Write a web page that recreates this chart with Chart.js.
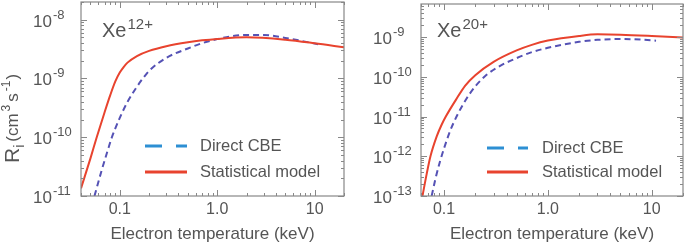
<!DOCTYPE html>
<html>
<head>
<meta charset="utf-8">
<script src="https://cdn.jsdelivr.net/npm/chart.js@4/dist/chart.umd.min.js"></script>
<style>
  html, body { margin:0; padding:0; background:#fff; }
  #wrap { position:relative; width:685px; height:243px; overflow:hidden; }
  .panel { position:absolute; top:0; height:243px; }
</style>
</head>
<body>
<div id="wrap">
  <div class="panel" style="left:0;width:345px"><canvas id="c12" width="345" height="243"></canvas></div>
  <div class="panel" style="left:345px;width:340px"><canvas id="c20" width="340" height="243"></canvas></div>
</div>
<script>
// Xe12+ : statistical model
const tStat12 = [0.04, 0.05, 0.058, 0.07, 0.08, 0.09, 0.1, 0.11, 0.12, 0.15, 0.2, 0.3, 0.5, 0.7, 1, 2, 5, 10, 20];
const rStat12 = [1.35e-11, 4.37e-11, 1.0e-10, 2.69e-10, 5.25e-10, 8.91e-10, 1.26e-9, 1.58e-9, 1.86e-9, 2.41e-9, 2.95e-9, 3.54e-9, 4.13e-9, 4.45e-9, 4.71e-9, 5.01e-9, 4.57e-9, 3.98e-9, 3.39e-9];
// Xe12+ : direct CBE
const tCbe12 = [0.055, 0.065, 0.075, 0.083, 0.09, 0.1, 0.12, 0.15, 0.174, 0.2, 0.3, 0.5, 0.7, 1, 2, 3, 5, 11];
const rCbe12 = [1e-11, 2.69e-11, 5.89e-11, 1e-10, 1.41e-10, 2.14e-10, 3.98e-10, 7.24e-10, 1.02e-9, 1.35e-9, 2.24e-9, 3.24e-9, 3.98e-9, 4.68e-9, 5.50e-9, 5.50e-9, 4.90e-9, 3.80e-9];

// Xe20+ : statistical model
const tStat20 = [0.062, 0.068, 0.074, 0.085, 0.095, 0.104, 0.13, 0.16, 0.2, 0.3, 0.5, 0.7, 1, 2, 3, 5, 10, 20];
const rStat20 = [1e-13, 3.55e-13, 1e-12, 3.16e-12, 6.31e-12, 1e-11, 2.63e-11, 6.03e-11, 1.10e-10, 2.38e-10, 4.62e-10, 6.37e-10, 8.17e-10, 1.07e-9, 1.17e-9, 1.15e-9, 1.07e-9, 9.77e-10];
// Xe20+ : direct CBE
const tCbe20 = [0.076, 0.083, 0.091, 0.1, 0.115, 0.132, 0.16, 0.2, 0.257, 0.35, 0.5, 0.7, 1, 2, 3, 5, 10, 11];
const rCbe20 = [1e-13, 2.82e-13, 7.08e-13, 1.58e-12, 4.47e-12, 1e-11, 2.51e-11, 5.75e-11, 1.12e-10, 1.91e-10, 2.95e-10, 4.17e-10, 5.37e-10, 7.59e-10, 8.51e-10, 8.91e-10, 8.32e-10, 8.13e-10];

const xTicks = [0.1, 1, 10];
const xTickLabels = ["0.1", "1.0", "10"];
const yExp12 = [-8, -9, -10, -11];
const yExp20 = [-9, -10, -11, -12, -13];
const legendLabels = ["Direct CBE", "Statistical model"];

const FONT = "'Liberation Sans', Arial, sans-serif";
const TXT = "#555";
const RED = "#e8432e";
const BLUE = "#5552b5";
const LEG_BLUE = "#2d8fd3";

const pts = (xs, ys) => xs.map((x, i) => ({ x, y: ys[i] }));

function minorList(min, max) {
  const out = [];
  for (let e = Math.floor(Math.log10(min)); e <= Math.ceil(Math.log10(max)); e++) {
    for (let m = 1; m <= 9; m++) {
      const v = m * Math.pow(10, e);
      if (v >= min * 0.999 && v <= max * 1.001) out.push({ v, major: m === 1 });
    }
  }
  return out;
}

function decorPlugin(cfg) {
  return {
    id: "decor",
    afterDraw(chart) {
      const ctx = chart.ctx, a = chart.chartArea;
      const xs = chart.scales.x, ys = chart.scales.y;
      ctx.save();
      // frame
      ctx.strokeStyle = "#888"; ctx.lineWidth = 1.2;
      ctx.strokeRect(a.left, a.top, a.right - a.left, a.bottom - a.top);
      // ticks, inward on all sides
      ctx.lineWidth = 1;
      minorList(xs.min, xs.max).forEach(t => {
        const px = Math.round(xs.getPixelForValue(t.v)) + 0.5, L = t.major ? 6 : 3;
        ctx.beginPath();
        ctx.moveTo(px, a.bottom); ctx.lineTo(px, a.bottom - L);
        ctx.moveTo(px, a.top); ctx.lineTo(px, a.top + L);
        ctx.stroke();
      });
      minorList(ys.min, ys.max).forEach(t => {
        const py = Math.round(ys.getPixelForValue(t.v)) + 0.5, L = t.major ? 6 : 3;
        ctx.beginPath();
        ctx.moveTo(a.left, py); ctx.lineTo(a.left + L, py);
        ctx.moveTo(a.right, py); ctx.lineTo(a.right - L, py);
        ctx.stroke();
      });
      ctx.fillStyle = TXT;
      // x tick labels
      ctx.textAlign = "center"; ctx.textBaseline = "alphabetic";
      ctx.font = "16px " + FONT;
      xTicks.forEach((v, i) => ctx.fillText(xTickLabels[i], xs.getPixelForValue(v), 214));
      // y tick labels 10^n
      ctx.textAlign = "left";
      cfg.yExp.forEach(e => {
        const py = ys.getPixelForValue(Math.pow(10, e));
        ctx.font = "17px " + FONT;
        ctx.fillText("10", cfg.yLabelX, py + 7);
        const w = ctx.measureText("10").width;
        ctx.font = "13px " + FONT;
        ctx.fillText(String(e), cfg.yLabelX + w + 1, py - 1);
      });
      // x axis title
      ctx.textAlign = "center";
      ctx.font = "17px " + FONT;
      ctx.fillText("Electron temperature (keV)", (a.left + a.right) / 2, 239);
      // ion label
      ctx.textAlign = "left";
      ctx.font = "20px " + FONT;
      ctx.fillText("Xe", cfg.ionX, 37);
      const xw = ctx.measureText("Xe").width;
      ctx.font = "15px " + FONT;
      ctx.fillText(cfg.ion, cfg.ionX + xw + 1, 29);
      // legend
      const lg = cfg.legend;
      ctx.lineWidth = 3;
      ctx.strokeStyle = LEG_BLUE; ctx.setLineDash([17, 14]);
      ctx.beginPath(); ctx.moveTo(lg.x0, lg.y1); ctx.lineTo(lg.x1, lg.y1); ctx.stroke();
      ctx.strokeStyle = RED; ctx.setLineDash([]);
      ctx.beginPath(); ctx.moveTo(lg.x0, lg.y2); ctx.lineTo(lg.x1, lg.y2); ctx.stroke();
      ctx.font = "16.5px " + FONT; ctx.textBaseline = "middle";
      ctx.fillText(legendLabels[0], lg.tx, lg.y1);
      ctx.fillText(legendLabels[1], lg.tx, lg.y2);
      // y axis title (left panel only)
      if (cfg.yTitle) {
        ctx.save();
        ctx.translate(19, 163);
        ctx.rotate(-Math.PI / 2);
        ctx.textBaseline = "alphabetic";
        let x = 0;
        const part = (s, size, dy, gap) => {
          ctx.font = size + "px " + FONT;
          ctx.fillText(s, x, dy);
          x += ctx.measureText(s).width + (gap || 0);
        };
        part("R", 21, 0);
        part("i", 14, 5, 3);
        part("(cm", 17, -1, 2);
        part("3", 12, -9, 3);
        part("s", 17, -1, 2);
        part("-1", 12, -9, 1);
        part(")", 17, -1);
        ctx.restore();
      }
      ctx.restore();
    }
  };
}

function makeChart(id, cfg) {
  new Chart(document.getElementById(id), {
    type: "line",
    data: {
      datasets: [
        { label: "Statistical model", data: pts(cfg.tStat, cfg.rStat),
          borderColor: RED, borderWidth: 2, pointRadius: 0, cubicInterpolationMode: "monotone", fill: false },
        { label: "Direct CBE", data: pts(cfg.tCbe, cfg.rCbe),
          borderColor: BLUE, borderWidth: 2, borderDash: [6, 4], pointRadius: 0, cubicInterpolationMode: "monotone", fill: false }
      ]
    },
    options: {
      responsive: false,
      animation: false,
      layout: { padding: cfg.pad },
      plugins: { legend: { display: false }, tooltip: { enabled: false } },
      scales: {
        x: { type: "logarithmic", display: false, min: cfg.xMin, max: 20 },
        y: { type: "logarithmic", display: false, min: cfg.yMin, max: cfg.yMax }
      }
    },
    plugins: [decorPlugin(cfg)]
  });
}

makeChart("c12", {
  tStat: tStat12, rStat: rStat12, tCbe: tCbe12, rCbe: rCbe12,
  xMin: 0.04, yMin: 1e-11, yMax: 2e-8,
  pad: { left: 81, right: 1, top: 2, bottom: 47 },
  yExp: yExp12, yLabelX: 33, ion: "12+", ionX: 102, yTitle: true,
  legend: { x0: 145, x1: 187, tx: 200, y1: 146, y2: 172 }
});

makeChart("c20", {
  tStat: tStat20, rStat: rStat20, tCbe: tCbe20, rCbe: rCbe20,
  xMin: 0.06, yMin: 1e-13, yMax: 6.8e-9,
  pad: { left: 76, right: 2, top: 4, bottom: 47 },
  yExp: yExp20, yLabelX: 28, ion: "20+", ionX: 92, yTitle: false,
  legend: { x0: 142, x1: 183, tx: 197, y1: 148, y2: 172 }
});
</script>
</body>
</html>
